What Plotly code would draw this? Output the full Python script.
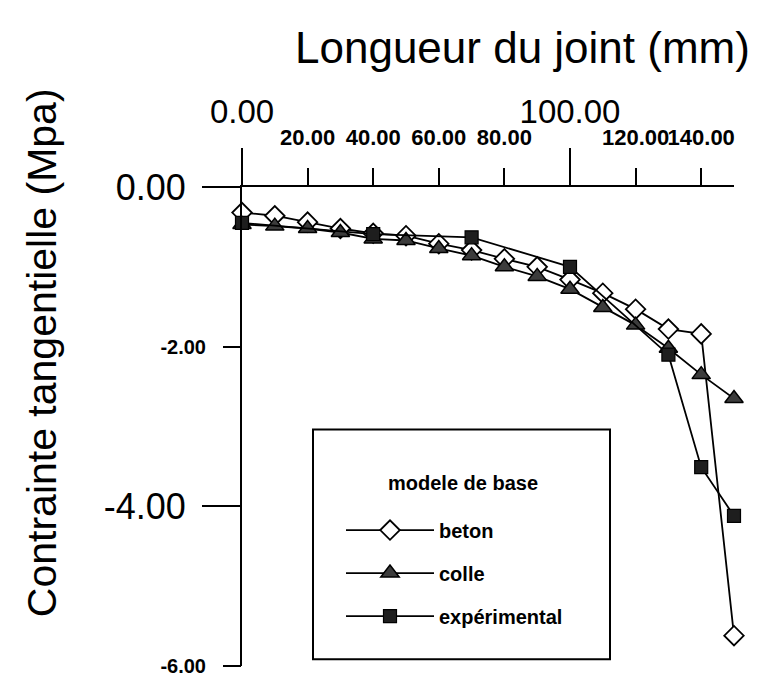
import plotly.graph_objects as go

# ---------------- data ----------------
x_beton = [0, 10, 20, 30, 40, 50, 60, 70, 80, 90, 100, 110, 120, 130, 140, 150]
y_beton = [-0.32, -0.36, -0.44, -0.52, -0.58, -0.61, -0.71, -0.79, -0.90, -1.00,
           -1.16, -1.33, -1.53, -1.78, -1.84, -5.62]

x_colle = [0, 10, 20, 30, 40, 50, 60, 70, 80, 90, 100, 110, 120, 130, 140, 150]
y_colle = [-0.47, -0.49, -0.52, -0.57, -0.65, -0.67, -0.77, -0.86, -1.00, -1.12,
           -1.28, -1.51, -1.73, -2.02, -2.35, -2.65]

x_exp = [0, 40, 70, 100, 130, 140, 150]
y_exp = [-0.45, -0.59, -0.63, -1.00, -2.10, -3.51, -4.12]

x_major_ticks = [0, 100]
x_major_text = ["0.00", "100.00"]
x_minor_ticks = [20, 40, 60, 80, 120, 140]
x_minor_text = ["20.00", "40.00", "60.00", "80.00", "120.00", "140.00"]
y_major_ticks = [0, -4]
y_major_text = ["0.00", "-4.00"]
y_minor_ticks = [-2, -6]
y_minor_text = ["-2.00", "-6.00"]

x_title = "Longueur du joint (mm)"
y_title = "Contrainte tangentielle (Mpa)"
legend_title = "modele de base"

FONT = "Liberation Sans, Arial, sans-serif"

W, H = 765, 688
ML, MR, MT, MB = 242, 31, 187, 11
PW, PH = W - ML - MR, H - MT - MB


def px(xp):
    return (xp - ML) / PW


def py(yp):
    return (H - MB - yp) / PH


fig = go.Figure()
fig.add_trace(go.Scatter(
    x=x_beton, y=y_beton, name="beton", mode="lines+markers", legendgroup="a",
    line=dict(color="black", width=1.8),
    marker=dict(symbol="diamond", size=15, color="white",
                line=dict(color="black", width=1.8)),
    cliponaxis=False))
fig.add_trace(go.Scatter(
    x=x_colle, y=y_colle, name="colle", mode="lines+markers", legendgroup="b",
    line=dict(color="black", width=1.8),
    marker=dict(symbol="triangle-up", size=16, color="#3c3c3c",
                line=dict(color="black", width=1.5)),
    cliponaxis=False))
fig.add_trace(go.Scatter(
    x=x_exp, y=y_exp, name="expérimental", mode="lines+markers", legendgroup="c",
    line=dict(color="black", width=1.8),
    marker=dict(symbol="square", size=13, color="#1e1e1e",
                line=dict(color="black", width=1.2)),
    cliponaxis=False))
# empty trace to materialise the overlay axes
fig.add_trace(go.Scatter(x=[], y=[], xaxis="x2", yaxis="y2", showlegend=False))

XR = [0, 150]
YR = [-6, 0]

fig.update_layout(
    width=W, height=H,
    margin=dict(l=ML, r=MR, t=MT, b=MB),
    paper_bgcolor="white", plot_bgcolor="white",
    font=dict(family=FONT, color="black"),
    xaxis=dict(range=XR, side="top", showgrid=False, zeroline=False,
               showline=True, linecolor="black", linewidth=2,
               ticks="outside", ticklen=37, tickwidth=2, tickcolor="black",
               tickvals=x_major_ticks, ticktext=x_major_text, tickangle=0,
               tickfont=dict(size=33, family=FONT), ticklabelstandoff=12),
    xaxis2=dict(range=XR, side="top", overlaying="x", anchor="y2",
                showgrid=False, zeroline=False, showline=False,
                ticks="outside", ticklen=18, tickwidth=2, tickcolor="black",
                tickvals=x_minor_ticks, ticktext=x_minor_text, tickangle=0,
                tickfont=dict(size=22, family=FONT, weight="bold"),
                ticklabelstandoff=14),
    yaxis=dict(range=YR, showgrid=False, zeroline=False,
               showline=True, linecolor="black", linewidth=2,
               ticks="outside", ticklen=38, tickwidth=2, tickcolor="black",
               tickvals=y_major_ticks, ticktext=y_major_text,
               tickfont=dict(size=36, family=FONT), ticklabelstandoff=9),
    yaxis2=dict(range=YR, overlaying="y", side="left", anchor="x2",
                showgrid=False, zeroline=False, showline=False,
                ticks="outside", ticklen=18, tickwidth=2, tickcolor="black",
                tickvals=y_minor_ticks, ticktext=y_minor_text,
                tickfont=dict(size=20, family=FONT, weight="bold"),
                ticklabelstandoff=13),
    showlegend=True,
    legend=dict(
        x=px(341), y=py(518), xanchor="left", yanchor="top",
        bgcolor="rgba(0,0,0,0)", borderwidth=0,
        font=dict(size=20, family=FONT, weight="bold"),
        itemwidth=88, tracegroupgap=14, traceorder="grouped"),
    shapes=[dict(type="rect", xref="paper", yref="paper",
                 x0=px(313), x1=px(610), y0=py(670), y1=py(435),
                 line=dict(color="black", width=2), fillcolor="white",
                 layer="below")],
    annotations=[
        dict(text=x_title, xref="paper", yref="paper",
             x=px(522), y=py(44),
             xanchor="center", yanchor="middle", showarrow=False,
             font=dict(size=44, family=FONT)),
        dict(text=y_title, xref="paper", yref="paper",
             x=px(42), y=py(357), textangle=-90,
             xanchor="center", yanchor="middle", showarrow=False,
             font=dict(size=41, family=FONT)),
        dict(text=legend_title, xref="paper", yref="paper",
             x=px(463), y=py(490),
             xanchor="center", yanchor="middle", showarrow=False,
             font=dict(size=20, family=FONT, weight="bold")),
    ],
)

# remove the browser's default 8px body margin so the figure fills the window
fig.write_html("out.html", config={"displayModeBar": False},
               post_script="document.body.style.margin='0';")
